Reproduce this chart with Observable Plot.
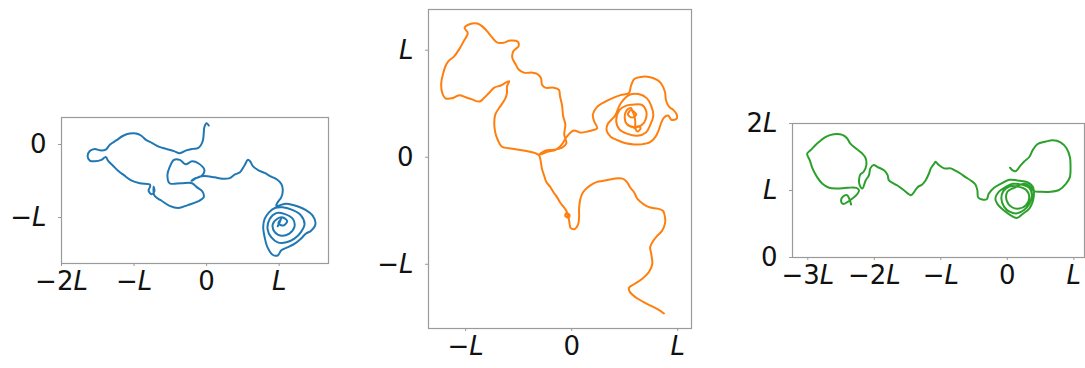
<!DOCTYPE html>
<html>
<head>
<meta charset="utf-8">
<script src="https://cdn.jsdelivr.net/npm/d3@7"></script>
<script src="https://cdn.jsdelivr.net/npm/@observablehq/plot@0.6"></script>
<style>
  html, body { margin: 0; padding: 0; background: #fff; }
  #wrap { position: relative; width: 1085px; height: 368px; overflow: hidden; font-family: "DejaVu Sans", sans-serif; }
  #wrap > div { position: absolute; }
  svg { overflow: visible; }
</style>
</head>
<body>
<div id="wrap">
  <div id="p1"></div>
  <div id="p2"></div>
  <div id="p3"></div>
</div>
<script>
// ---- Panel 1 (blue) trajectory, units of L ----
const blueX = [0.03,0.00,-0.03,-0.04,-0.05,-0.08,-0.12,-0.19,-0.28,-0.37,-0.45,-0.56,-0.66,-0.75,-0.83,-0.90,-0.97,-1.06,-1.15,-1.24,-1.33,-1.39,-1.47,-1.54,-1.61,-1.64,-1.61,-1.54,-1.45,-1.39,-1.36,-1.29,-1.22,-1.14,-1.04,-0.92,-0.78,
  -0.78,-0.80,-0.76,-0.72,-0.73,
  -0.72,-0.62,-0.51,-0.39,-0.26,-0.12,-0.04,-0.06,-0.14,-0.20,
  -0.35,-0.51,-0.54,-0.51,-0.45,-0.37,-0.29,-0.20,-0.11,-0.03,-0.07,-0.17,-0.21,-0.10,-0.03,0.11,0.22,0.32,0.39,0.46,0.52,0.57,0.60,0.64,0.71,0.80,0.89,0.97,1.03,1.05,1.03,0.98,
  0.96,1.10,1.26,1.37,1.46,1.50,1.44,1.37,1.30,1.21,1.11,1.03,0.98,0.91,0.84,0.80,0.78,0.80,0.86,0.94,
  1.05,1.19,1.30,1.35,1.30,1.21,1.10,0.98,0.89,0.84,0.87,0.96,
  1.07,1.19,1.21,1.14,1.03,0.94,0.91,0.97,
  1.05,1.11,1.06,0.99,1.03,0.98];
const blueY = [0.26,0.29,0.24,0.15,0.06,-0.01,-0.05,-0.06,-0.08,-0.12,-0.09,-0.06,-0.03,0.02,0.06,0.12,0.15,0.15,0.12,0.06,0.00,-0.07,-0.08,-0.06,-0.09,-0.16,-0.22,-0.23,-0.21,-0.17,-0.22,-0.29,-0.36,-0.42,-0.49,-0.53,-0.55,
  -0.58,-0.63,-0.68,-0.64,-0.58,
  -0.70,-0.77,-0.84,-0.87,-0.83,-0.78,-0.72,-0.64,-0.58,-0.53,
  -0.53,-0.53,-0.42,-0.31,-0.21,-0.21,-0.27,-0.23,-0.26,-0.35,-0.43,-0.47,-0.50,-0.44,-0.43,-0.45,-0.47,-0.46,-0.41,-0.38,-0.29,-0.21,-0.23,-0.30,-0.35,-0.39,-0.44,-0.48,-0.54,-0.62,-0.72,-0.79,
  -0.84,-0.81,-0.85,-0.90,-0.97,-1.09,-1.18,-1.22,-1.29,-1.36,-1.41,-1.45,-1.52,-1.51,-1.41,-1.27,-1.13,-1.02,-0.93,-0.87,
  -0.86,-0.90,-0.97,-1.09,-1.20,-1.29,-1.34,-1.34,-1.27,-1.16,-1.02,-0.94,
  -0.95,-1.02,-1.13,-1.22,-1.25,-1.20,-1.10,-1.02,
  -1.00,-1.05,-1.11,-1.08,-1.02,-1.12];

// ---- Panel 2 (orange) trajectory, units of L ----
const orangeX = [0.87,0.81,0.71,0.62,0.55,0.54,0.60,0.66,0.73,0.76,0.75,0.74,0.77,0.81,0.85,0.88,0.88,0.86,0.81,0.74,0.68,0.62,0.59,0.55,0.52,0.48,0.40,0.30,0.24,0.18,0.13,0.10,0.08,0.07,0.07,0.06,0.03,-0.01,-0.02,
  -0.03,-0.06,-0.05,-0.02,-0.03,-0.05,-0.08,-0.11,-0.14,-0.17,-0.20,-0.24,-0.26,-0.28,-0.29,-0.31,
  -0.44,-0.56,-0.66,-0.70,-0.72,-0.73,-0.72,-0.67,-0.63,-0.61,-0.61,-0.59,
  -0.67,-0.73,-0.78,-0.83,-0.87,-0.94,-1.00,-1.06,-1.13,-1.19,-1.22,-1.23,-1.21,-1.19,-1.16,-1.11,-1.06,-1.02,-0.98,-1.01,-0.97,-0.89,-0.84,-0.80,-0.75,-0.70,-0.64,-0.58,-0.51,-0.50,-0.55,-0.56,-0.53,-0.50,-0.45,-0.37,
  -0.33,-0.29,-0.28,-0.25,-0.17,-0.12,-0.11,-0.09,-0.08,-0.06,-0.07,-0.05,-0.09,-0.17,-0.25,-0.31,
  -0.23,-0.15,-0.10,-0.04,0.02,0.08,0.15,0.19,0.24,
  0.21,0.20,0.24,0.30,0.38,0.46,0.54,0.56,0.59,0.65,0.73,0.81,0.85,0.88,0.89,0.92,0.96,0.99,0.99,0.94,0.91,0.87,0.84,0.82,0.79,0.74,0.66,0.59,0.51,0.43,0.37,0.33,0.34,
  0.41,0.46,0.54,0.63,0.71,0.75,0.77,0.74,0.70,0.62,0.52,0.45,0.42,0.45,0.51,
  0.57,0.66,0.70,0.70,0.66,0.59,0.52,0.50,0.52,0.56,
  0.57,0.61,0.57,0.53,0.56,0.59,
  0.60,0.60,0.62,0.65,0.63,0.59];
const orangeY = [-1.46,-1.42,-1.37,-1.32,-1.26,-1.22,-1.18,-1.14,-1.07,-1.00,-0.90,-0.84,-0.78,-0.73,-0.69,-0.62,-0.56,-0.50,-0.48,-0.47,-0.44,-0.39,-0.33,-0.28,-0.23,-0.20,-0.20,-0.22,-0.23,-0.26,-0.30,-0.34,-0.40,-0.48,-0.56,-0.63,-0.67,-0.66,-0.62,
  -0.57,-0.55,-0.52,-0.54,-0.57,-0.50,-0.46,-0.42,-0.37,-0.33,-0.28,-0.23,-0.17,-0.11,-0.05,0.02,
  0.06,0.08,0.10,0.17,0.23,0.32,0.40,0.48,0.54,0.60,0.66,0.71,
  0.67,0.65,0.60,0.55,0.52,0.54,0.56,0.58,0.55,0.55,0.60,0.69,0.79,0.85,0.90,0.94,1.01,1.08,1.16,1.21,1.24,1.25,1.22,1.18,1.12,1.07,1.07,1.09,1.08,1.04,0.99,0.93,0.87,0.82,0.79,0.79,
  0.78,0.74,0.68,0.65,0.65,0.63,0.57,0.48,0.38,0.31,0.21,0.13,0.09,0.07,0.06,0.02,
  0.05,0.07,0.11,0.20,0.25,0.23,0.24,0.25,0.27,
  0.34,0.40,0.47,0.51,0.55,0.58,0.60,0.67,0.73,0.75,0.75,0.72,0.68,0.61,0.53,0.47,0.44,0.40,0.36,0.35,0.39,0.37,0.31,0.25,0.19,0.14,0.12,0.12,0.13,0.16,0.19,0.25,0.31,
  0.39,0.50,0.58,0.59,0.55,0.48,0.39,0.30,0.23,0.20,0.22,0.26,0.34,0.44,0.48,
  0.49,0.49,0.44,0.36,0.30,0.28,0.31,0.37,0.44,0.46,
  0.44,0.40,0.37,0.40,0.44,0.39,
  0.33,0.28,0.24,0.27,0.29,0.27];

// ---- Panel 3 (green) trajectory, units of L ----
const greenX = [-2.35,-2.37,-2.41,-2.47,-2.50,-2.47,-2.40,-2.33,-2.27,-2.23,-2.27,
  -2.41,-2.56,-2.68,-2.78,-2.86,-2.93,-2.97,-3.01,-2.96,-2.86,-2.73,-2.61,-2.48,-2.41,-2.36,-2.28,-2.18,-2.13,-2.12,-2.16,-2.21,-2.23,-2.22,-2.18,
  -2.13,-2.08,-2.06,-2.01,-1.95,-1.85,-1.80,-1.78,-1.70,-1.63,-1.55,-1.45,-1.40,-1.35,-1.28,-1.23,-1.18,-1.15,-1.10,-1.08,-1.03,-0.95,-0.85,-0.79,-0.70,-0.63,-0.55,-0.48,-0.45,-0.44,-0.39,-0.31,-0.28,-0.20,
  -0.10,0.03,0.15,0.28,0.38,0.40,0.38,0.33,0.23,0.14,0.05,-0.05,-0.15,-0.18,-0.13,-0.03,
  0.08,0.20,0.33,0.37,0.33,0.25,0.15,0.04,-0.05,-0.09,-0.06,0.03,
  0.15,0.28,0.33,0.28,0.18,0.07,-0.01,0.00,0.10,
  0.25,0.35,0.40,
  0.50,0.65,0.78,0.88,0.94,0.95,0.94,0.89,0.80,0.68,0.58,0.45,0.38,0.33,0.25,0.18,0.13,0.08,0.04];
const greenY = [0.79,0.86,0.93,0.91,0.85,0.80,0.83,0.88,0.93,1.00,1.04,
  1.04,1.03,1.04,1.10,1.20,1.33,1.45,1.55,1.60,1.70,1.80,1.84,1.83,1.78,1.70,1.63,1.55,1.48,1.38,1.28,1.24,1.16,1.08,1.03,
  1.15,1.23,1.33,1.38,1.35,1.30,1.23,1.15,1.10,1.06,1.00,0.93,0.98,1.05,1.09,1.15,1.25,1.33,1.40,1.43,1.38,1.33,1.33,1.30,1.25,1.20,1.15,1.09,1.00,0.90,0.87,0.87,0.95,1.04,
  1.10,1.16,1.15,1.13,1.06,0.95,0.83,0.73,0.65,0.59,0.63,0.70,0.80,0.88,0.98,1.05,
  1.10,1.09,1.04,0.93,0.80,0.71,0.66,0.68,0.76,0.88,0.99,1.06,
  1.06,1.01,0.90,0.78,0.73,0.75,0.85,0.98,1.04,
  1.10,1.05,0.99,
  0.98,0.98,1.01,1.10,1.20,1.35,1.50,1.63,1.72,1.75,1.73,1.69,1.60,1.50,1.43,1.35,1.29,1.30,1.34];

// ---- tick values (in units of L) ----
const p1XTicks = [-2, -1, 0, 1];
const p1YTicks = [-1, 0];
const p2XTicks = [-1, 0, 1];
const p2YTicks = [-1, 0, 1];
const p3XTicks = [-3, -2, -1, 0, 1];
const p3YTicks = [0, 1, 2];

const fmtL = v => v === 0 ? "0" : (v < 0 ? "\u2212" : "") + (Math.abs(v) === 1 ? "" : String(Math.abs(v))) + "L";

function italicizeL(svg) {
  svg.querySelectorAll("text").forEach(t => {
    const s = t.textContent;
    if (s.endsWith("L")) {
      t.textContent = s.slice(0, -1);
      const ts = document.createElementNS("http://www.w3.org/2000/svg", "tspan");
      ts.setAttribute("font-style", "italic");
      ts.textContent = "L";
      t.appendChild(ts);
    }
  });
}

function panel({id, xs, ys, color, xDomain, yDomain, xTicks, yTicks, frameW, frameH, left, top, mt, mb, ml, mr}) {
  const data = xs.map((x, i) => ({x, y: ys[i]}));
  const svg = Plot.plot({
    width: ml + frameW + mr,
    height: mt + frameH + mb,
    marginLeft: ml, marginRight: mr, marginTop: mt, marginBottom: mb,
    style: {fontFamily: "DejaVu Sans, sans-serif", background: "transparent", overflow: "visible"},
    x: {domain: xDomain},
    y: {domain: yDomain},
    marks: [
      Plot.line(data, {x: "x", y: "y", stroke: color, strokeWidth: 2, curve: "catmull-rom"}),
      Plot.frame({stroke: "#9a9a9a", strokeWidth: 1.2}),
      Plot.axisX({ticks: xTicks, tickFormat: fmtL, tickSize: 3, tickPadding: 5, fontSize: 26, stroke: "#9a9a9a", fill: "#111", label: null}),
      Plot.axisY({ticks: yTicks, tickFormat: fmtL, tickSize: 3, tickPadding: 12, fontSize: 26, stroke: "#9a9a9a", fill: "#111", label: null})
    ]
  });
  italicizeL(svg);
  const host = document.getElementById(id);
  host.style.left = (left - ml) + "px";
  host.style.top = (top - mt) + "px";
  host.appendChild(svg);
}

panel({id: "p1", xs: blueX, ys: blueY, color: "#1f77b4",
  xDomain: [-2.0, 1.68], yDomain: [-1.63, 0.37], xTicks: p1XTicks, yTicks: p1YTicks,
  frameW: 267, frameH: 146, left: 61, top: 117, mt: 8, mb: 40, ml: 60, mr: 8});

panel({id: "p2", xs: orangeX, ys: orangeY, color: "#ff7f0e",
  xDomain: [-1.35, 1.13], yDomain: [-1.6, 1.38], xTicks: p2XTicks, yTicks: p2YTicks,
  frameW: 263, frameH: 319, left: 428, top: 9, mt: 8, mb: 40, ml: 60, mr: 8});

panel({id: "p3", xs: greenX, ys: greenY, color: "#2ca02c",
  xDomain: [-3.23, 1.16], yDomain: [0, 2], xTicks: p3XTicks, yTicks: p3YTicks,
  frameW: 292, frameH: 134, left: 792, top: 123, mt: 14, mb: 40, ml: 60, mr: 1});
</script>
</body>
</html>
